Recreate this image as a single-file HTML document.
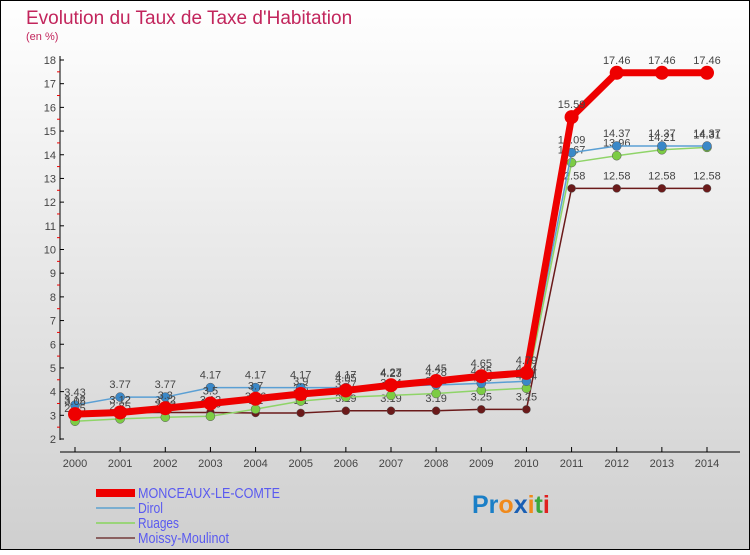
<!DOCTYPE html>
<html><head><meta charset="utf-8"><style>
html,body{margin:0;padding:0}
body{width:750px;height:550px;overflow:hidden;font-family:"Liberation Sans",sans-serif}
</style></head><body>
<svg id="chart" width="750" height="550" xmlns="http://www.w3.org/2000/svg">
<defs><linearGradient id="bg" x1="0" y1="0" x2="0" y2="1"><stop offset="0" stop-color="#ffffff"/><stop offset="1" stop-color="#cfcfcf"/></linearGradient></defs>
<rect x="0.5" y="0.5" width="749" height="549" fill="url(#bg)" stroke="#000"/>
<text x="26" y="24" font-size="19" fill="#c2255c">Evolution du Taux de Taxe d'Habitation</text>
<text x="26" y="40" font-size="11" fill="#c2255c">(en %)</text>
<g id="axes"></g><g id="series"></g><g id="legend"></g>
<text x="472" y="513" font-size="25" font-weight="bold"><tspan fill="#1a7fc7">Pr</tspan><tspan fill="#f08a1c">o</tspan><tspan fill="#1a5fb4">x</tspan><tspan fill="#f08a1c">i</tspan><tspan fill="#3aa83a">t</tspan><tspan fill="#e02020">i</tspan></text>
</svg>
<script>
const years=[2000,2001,2002,2003,2004,2005,2006,2007,2008,2009,2010,2011,2012,2013,2014];
const yTicks=[2,3,4,5,6,7,8,9,10,11,12,13,14,15,16,17,18];
const monceaux=[3.05,3.12,3.3,3.5,3.7,3.9,4.05,4.27,4.45,4.65,4.79,15.59,17.46,17.46,17.46];
const dirol=[3.43,3.77,3.77,4.17,4.17,4.17,4.17,4.23,4.28,4.35,4.44,14.09,14.37,14.37,14.37];
const ruages=[2.75,2.85,2.92,2.96,3.26,3.6,3.77,3.84,3.92,4.05,4.14,13.67,13.96,14.21,14.31];
const moissy=[3.12,3.12,3.12,3.12,3.1,3.1,3.19,3.19,3.19,3.25,3.25,12.58,12.58,12.58,12.58];
const seriesNames=["MONCEAUX-LE-COMTE","Dirol","Ruages","Moissy-Moulinot"];
const NS="http://www.w3.org/2000/svg";
const x=i=>75+i*(707-75)/(years.length-1);
const y=v=>439-(v-2)*(439-60)/16;
function mk(tag,attrs,parent,txt){const e=document.createElementNS(NS,tag);for(const k in attrs)e.setAttribute(k,attrs[k]);if(txt!==undefined)e.textContent=txt;parent.appendChild(e);return e;}
const ax=document.getElementById('axes');
let e=mk('line',{x1:60,y1:56,x2:60,y2:440,stroke:'#000'},ax);

e=mk('line',{x1:60,y1:452,x2:740,y2:452,stroke:'#000'},ax);

yTicks.forEach(t=>{
 mk('line',{x1:60,y1:y(t),x2:64,y2:y(t),stroke:'#000'},ax);
 if(t<18)mk('line',{x1:57,y1:y(t+0.5),x2:60,y2:y(t+0.5),stroke:'#e00'},ax);
 e=mk('text',{x:56,y:y(t)+4,'font-size':11,'text-anchor':'end',fill:'#444'},ax,String(t));
 
});
years.forEach((yr,i)=>{
 mk('line',{x1:x(i),y1:447,x2:x(i),y2:452,stroke:'#000'},ax);
 e=mk('text',{x:x(i),y:467,'font-size':11,'text-anchor':'middle',fill:'#444'},ax,String(yr));
 
});
const sg=document.getElementById('series');
const defs=[[moissy,'#6b1a1a',1.5,4,'moissy'],[ruages,'#8fd468',1.5,4.5,'ruages'],[dirol,'#5a9fd4',1.5,4.5,'dirol'],[monceaux,'#ee0000',7,7,'monceaux']];
defs.forEach(([d,c,w,r,n])=>{
 const g=mk('g',{},sg);
 
 e=mk('polyline',{points:d.map((v,i)=>x(i)+','+y(v)).join(' '),fill:'none',stroke:c,'stroke-width':w,'stroke-linejoin':'round'},g);
 
 d.forEach((v,i)=>{
  e=mk('circle',{cx:x(i),cy:y(v),r:r,fill:n==='ruages'?'#7ccc44':n==='dirol'?'#3a88c8':c,stroke:n==='monceaux'?'none':'#555','stroke-width':0.5},g);
  
  e=mk('text',{x:x(i),y:y(v)-9,'font-size':11,'text-anchor':'middle',fill:'#444'},g,String(v));
  
 });
});
const lg=document.getElementById('legend');
const lc=['#ee0000','#7aaed0','#9ad47a','#8a6060'];const lw=[8,2,2,2];
const lwid=[142,25,41,91];
seriesNames.forEach((s,i)=>{
 const yy=493+i*15;
 e=mk('line',{x1:96,y1:yy,x2:135,y2:yy,stroke:lc[i],'stroke-width':lw[i]},lg);
 
 e=mk('text',{x:138,y:yy+5,'font-size':15,fill:'#5a5af0',textLength:lwid[i],lengthAdjust:'spacingAndGlyphs'},lg,s);
 
});
</script>
</body></html>
